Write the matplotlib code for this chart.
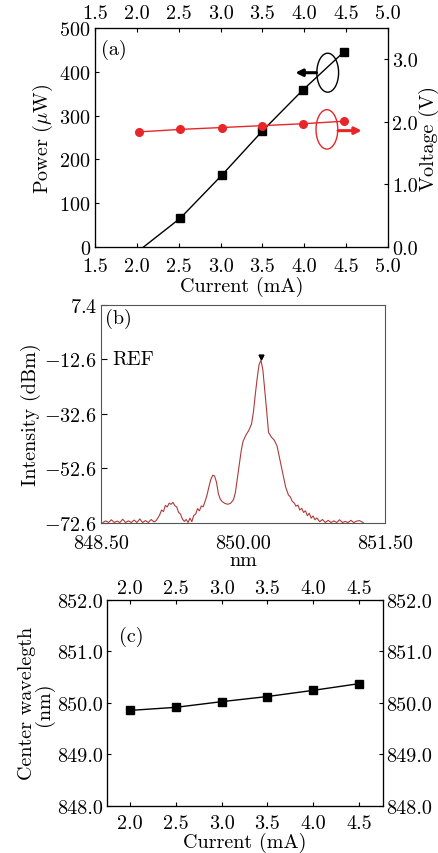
import matplotlib as mpl
import matplotlib.pyplot as plt
from matplotlib.patches import Ellipse

mpl.rcParams.update({'font.family': 'serif', 'font.serif': ['cmr10', 'DejaVu Serif'],
                     'mathtext.fontset': 'cm', 'axes.unicode_minus': False,
                     'axes.formatter.use_mathtext': True, 'font.size': 14.5})

# (a) power / voltage vs current
cur_p = [2.08, 2.52, 3.02, 3.50, 3.98, 4.47]
power = [0, 66, 165, 265, 358, 445]
cur_v = [2.03, 2.52, 3.02, 3.50, 3.98, 4.47]
volt = [1.84, 1.88, 1.91, 1.94, 1.97, 2.01]
a_ticks = [1.5, 2.0, 2.5, 3.0, 3.5, 4.0, 4.5, 5.0]

# (b) spectrum
wl = [848.52, 848.55, 848.58, 848.61, 848.64, 848.67, 848.70, 848.73, 848.76, 848.79,
      848.82, 848.85, 848.88, 848.91, 848.94, 848.97, 849.00, 849.03, 849.06, 849.08,
      849.10, 849.12, 849.14, 849.16, 849.18, 849.20, 849.22, 849.24, 849.26, 849.28,
      849.30, 849.32, 849.34, 849.36, 849.38, 849.40,
      849.42, 849.44, 849.46, 849.48, 849.50, 849.52, 849.54, 849.56, 849.58, 849.60,
      849.62, 849.64, 849.66, 849.68, 849.70, 849.72, 849.74, 849.76, 849.78, 849.81,
      849.84, 849.87, 849.90, 849.92, 849.94, 849.96, 849.98, 850.00, 850.03, 850.06,
      850.09, 850.11, 850.13, 850.15, 850.17, 850.19, 850.21, 850.23, 850.25, 850.27,
      850.30, 850.33, 850.36, 850.39, 850.42, 850.45, 850.48, 850.50, 850.52, 850.54,
      850.56, 850.58, 850.60, 850.62, 850.64, 850.66, 850.68, 850.70, 850.72, 850.74,
      850.76, 850.78, 850.81, 850.84, 850.87,
      850.90, 850.93, 850.96, 850.99, 851.02, 851.05, 851.08, 851.11, 851.14, 851.17,
      851.20, 851.23, 851.27]
dbm = [-72.6, -72.0, -72.6, -71.6, -72.6, -72.1, -72.6, -71.4, -72.6, -72.0,
       -72.6, -71.7, -72.6, -71.3, -72.6, -71.9, -72.6, -71.5, -72.4, -72.0,
       -71.0, -69.8, -68.0, -68.6, -66.3, -66.9, -65.5, -65.9, -65.2, -66.4,
       -66.9, -68.9, -69.5, -71.3, -72.2, -71.5,
       -72.6, -71.0, -72.3, -70.0, -69.5, -67.5, -68.3, -66.5, -66.8, -64.8,
       -62.5, -59.5, -56.8, -55.2, -55.5, -57.8, -62.0, -64.0, -64.9, -65.6,
       -65.9, -65.5, -64.2, -61.5, -56.5, -51.5, -46.5, -42.8, -40.5, -38.8,
       -36.4, -32.0, -25.5, -19.5, -14.5, -12.9, -16.5, -24.0, -31.5, -39.5,
       -41.2, -42.3, -44.5, -49.5, -54.5, -59.5, -62.5, -63.2, -64.8, -65.4,
       -66.6, -66.2, -68.0, -67.4, -68.9, -68.3, -70.1, -69.2, -71.0, -70.2,
       -71.6, -70.9, -72.3, -71.5, -72.6,
       -71.8, -72.6, -72.0, -72.6, -71.6, -72.6, -72.2, -72.6, -71.8, -72.6,
       -72.1, -71.9, -72.6]
b_yticks = [7.4, -12.6, -32.6, -52.6, -72.6]
b_xticks = [848.50, 850.00, 851.50]

# (c) center wavelength vs current
cur_c = [2.0, 2.5, 3.0, 3.5, 4.0, 4.5]
wave_c = [849.85, 849.91, 850.02, 850.12, 850.24, 850.37]
c_xticks = [2.0, 2.5, 3.0, 3.5, 4.0, 4.5]
c_yticks = [848.0, 849.0, 850.0, 851.0, 852.0]

fig = plt.figure(figsize=(4.39, 8.54), dpi=100)

# ---------- (a)
ax = fig.add_axes([0.2164, 0.7096, 0.6674, 0.2564])
ax.plot(cur_p, power, color='black', lw=1)
ax.plot(cur_p[1:], power[1:], 's', color='black', ms=5.5)
ax.set_xlim(1.5, 5.0)
ax.set_ylim(0, 500)
ax.set_xticks(a_ticks)
ax.set_xticklabels(['%.1f' % t for t in a_ticks])
ax.set_yticks([0, 100, 200, 300, 400, 500])
ax.set_xlabel('Current (mA)', labelpad=1)
ax.set_ylabel(r'Power ($\mu$W)', labelpad=3)
ax.tick_params(direction='in', length=3)
ax.tick_params(axis='x', pad=7)
ax.tick_params(axis='y', pad=3)
ax.text(0.02, 0.95, '(a)', transform=ax.transAxes, va='top', ha='left')
ax.add_patch(Ellipse((4.28, 398), 0.26, 89, fill=False, ec='black', lw=1))
ax.annotate('', xy=(3.86, 398), xytext=(4.18, 398),
            arrowprops=dict(arrowstyle='-|>', color='black', lw=2.2, mutation_scale=10))
axt = ax.twiny()
axt.set_xlim(1.5, 5.0)
axt.set_xticks(a_ticks)
axt.set_xticklabels(['%.1f' % t for t in a_ticks])
axt.tick_params(direction='in', length=3, pad=4)
axr = ax.twinx()
axr.plot(cur_v, volt, '-o', color='#e8262a', lw=1, ms=5.5)
axr.set_ylim(0, 3.5)
axr.set_yticks([0, 1, 2, 3])
axr.set_yticklabels(['0.0', '1.0', '2.0', '3.0'])
axr.set_ylabel('Voltage (V)', labelpad=1)
axr.tick_params(direction='in', length=3, pad=3)
axr.add_patch(Ellipse((4.27, 1.88), 0.26, 0.63, fill=False, ec='#e8262a', lw=1))
axr.annotate('', xy=(4.72, 1.86), xytext=(4.37, 1.86),
             arrowprops=dict(arrowstyle='-|>', color='#e8262a', lw=2.2, mutation_scale=10))

# ---------- (b)
bx = fig.add_axes([0.230, 0.387, 0.647, 0.2547])
bx.plot(wl, dbm, color='#b03a3a', lw=0.8)
bx.plot([850.19], [-11.8], 'v', color='black', ms=3.5)
bx.set_xlim(848.5, 851.5)
bx.set_ylim(-72.6, 7.4)
bx.set_xticks(b_xticks)
bx.set_xticklabels(['%.2f' % t for t in b_xticks])
bx.set_yticks(b_yticks)
bx.set_yticklabels(['$%.1f$' % t for t in b_yticks])
bx.tick_params(axis='y', direction='in', length=4, pad=3)
bx.tick_params(axis='x', length=0, pad=8)
bx.set_xlabel('nm', labelpad=0)
bx.set_ylabel('Intensity (dBm)', labelpad=2)
bx.text(848.62, -12.6, 'REF', va='center', ha='left')
bx.text(0.015, 0.985, '(b)', transform=bx.transAxes, va='top', ha='left')
for s in bx.spines.values():
    s.set_color('#555555')

# ---------- (c)
cx = fig.add_axes([0.2437, 0.0554, 0.6287, 0.2412])
cx.plot(cur_c, wave_c, '-s', color='black', lw=1, ms=5.5)
cx.set_xlim(1.75, 4.76)
cx.set_ylim(848.0, 852.0)
cx.set_xticks(c_xticks)
cx.set_xticklabels(['%.1f' % t for t in c_xticks])
cx.set_yticks(c_yticks)
cx.set_yticklabels(['%.1f' % t for t in c_yticks])
cx.set_xlabel('Current (mA)', labelpad=0)
cx.set_ylabel('Center wavelegth\n(nm)', labelpad=2, linespacing=0.85)
cx.tick_params(direction='in', length=3)
cx.tick_params(axis='x', pad=6)
cx.tick_params(axis='y', pad=3)
cx.text(1.88, 851.3, '(c)', va='center', ha='left')
cxt = cx.twiny()
cxt.set_xlim(1.75, 4.76)
cxt.set_xticks(c_xticks)
cxt.set_xticklabels(['%.1f' % t for t in c_xticks])
cxt.tick_params(direction='in', length=3, pad=2)
cxr = cx.twinx()
cxr.set_ylim(848.0, 852.0)
cxr.set_yticks(c_yticks)
cxr.set_yticklabels(['%.1f' % t for t in c_yticks])
cxr.tick_params(direction='in', length=3, pad=2)

fig.savefig('out.png', dpi=100)
